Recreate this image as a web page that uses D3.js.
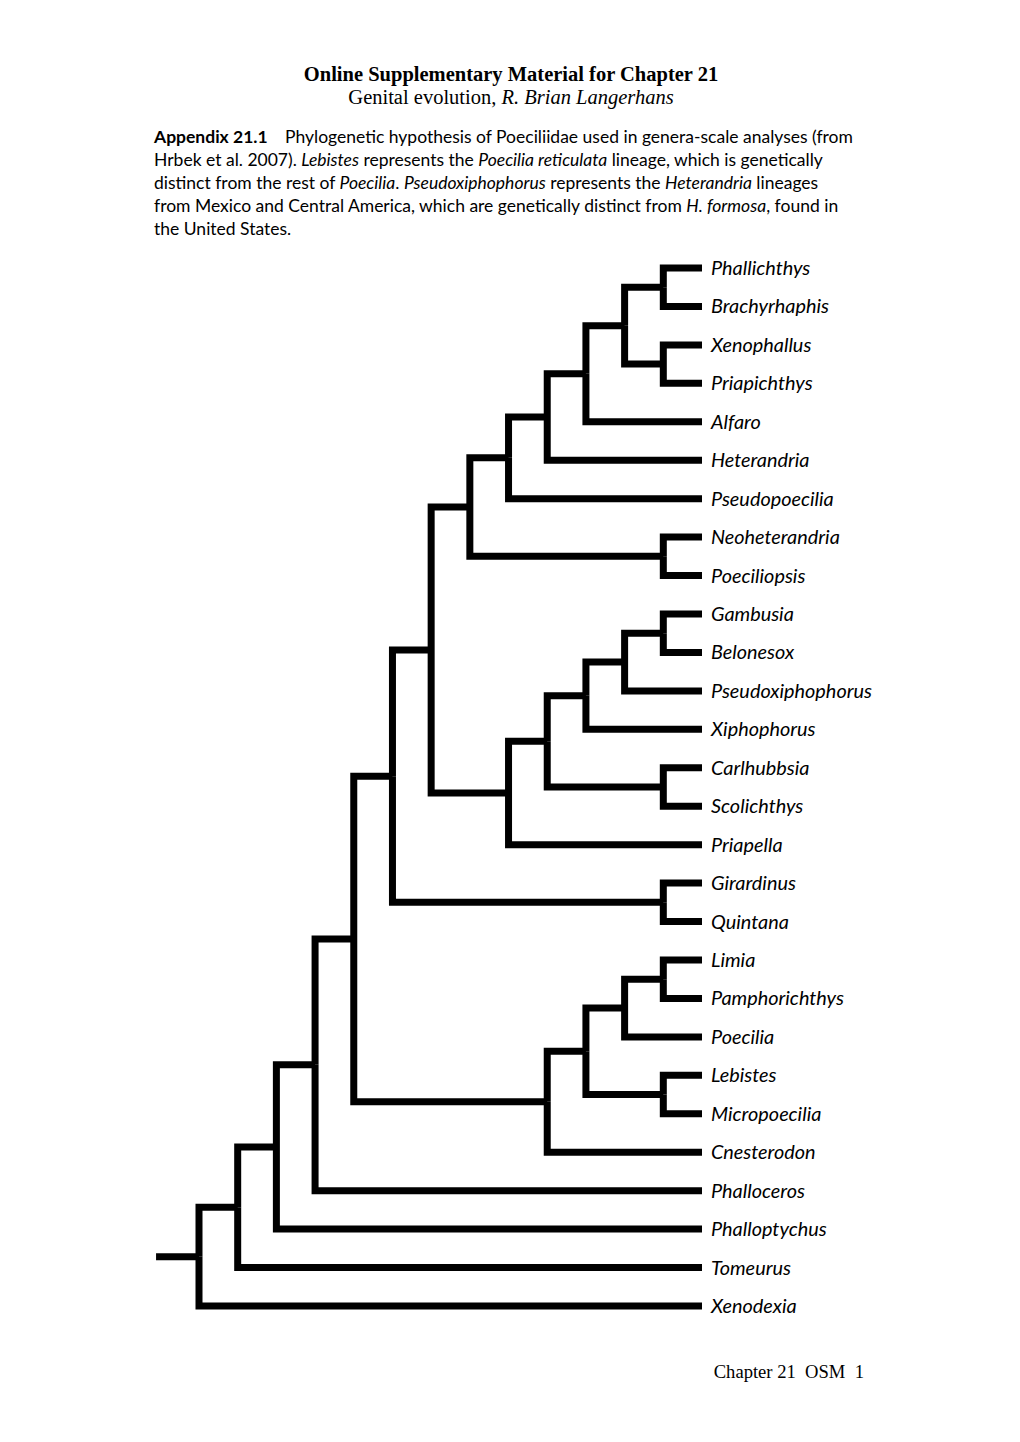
<!DOCTYPE html>
<html><head><meta charset="utf-8">
<script src="https://cdn.jsdelivr.net/npm/d3@7"></script>
<style>
html,body{margin:0;padding:0;background:#fff;}
svg text{white-space:pre;}
</style>
</head><body>
<script>
// ---- Data: tree topology (nested clades) ----
const cladeR  = [["Phallichthys","Brachyrhaphis"],["Xenophallus","Priapichthys"]];
const cladeQ  = [cladeR,"Alfaro"];
const cladeP  = [cladeQ,"Heterandria"];
const cladeN  = [cladeP,"Pseudopoecilia"];
const cladeL  = [cladeN,["Neoheterandria","Poeciliopsis"]];
const cladeV  = [["Gambusia","Belonesox"],"Pseudoxiphophorus"];
const cladeT  = [cladeV,"Xiphophorus"];
const cladeS  = [cladeT,["Carlhubbsia","Scolichthys"]];
const cladeM  = [cladeS,"Priapella"];
const cladeJ  = [cladeL,cladeM];
const cladeE  = [cladeJ,["Girardinus","Quintana"]];
const cladeG  = [["Limia","Pamphorichthys"],"Poecilia"];
const cladeF  = [cladeG,["Lebistes","Micropoecilia"]];
const cladePc = [cladeF,"Cnesterodon"];
const cladeD  = [cladeE,cladePc];
const cladeC  = [cladeD,"Phalloceros"];
const cladeB  = [cladeC,"Phalloptychus"];
const cladeA  = [cladeB,"Tomeurus"];
const rootClade = [cladeA,"Xenodexia"];

const titleText = "Online Supplementary Material for Chapter 21";
const subtitleParts = [{t:"Genital evolution, ",i:false},{t:"R. Brian Langerhans",i:true}];
const captionLines = [
  [{t:"Appendix 21.1",b:true},{t:"Phylogenetic hypothesis of Poeciliidae used in genera-scale analyses (from",gap:true}],
  [{t:"Hrbek et al. 2007). "},{t:"Lebistes",i:true},{t:" represents the "},{t:"Poecilia reticulata",i:true},{t:" lineage, which is genetically"}],
  [{t:"distinct from the rest of "},{t:"Poecilia",i:true},{t:". "},{t:"Pseudoxiphophorus",i:true},{t:" represents the "},{t:"Heterandria",i:true},{t:" lineages"}],
  [{t:"from Mexico and Central America, which are genetically distinct from "},{t:"H. formosa",i:true},{t:", found in"}],
  [{t:"the United States."}]
];
const footerText = "Chapter 21  OSM  1";

// ---- Drawing ----
const W = 1020, H = 1442;
const svg = d3.select("body").append("svg").attr("width",W).attr("height",H);

const root = d3.hierarchy(rootClade, d => Array.isArray(d) ? d : null);
const leafNodes = root.leaves();
const leafNames = leafNodes.map(d => d.data);

const y = d3.scalePoint().domain(leafNames).range([268,1306]);
const x = d3.scaleLinear().domain([0, root.height]).range([702, 199]);

root.eachAfter(n => {
  if (!n.children) n.py = y(n.data);
  else n.py = d3.mean(n.children, c => c.py);
});

const g = svg.append("g");
const sw = 7;
g.selectAll("path.branch")
  .data(root.descendants().filter(d => d.parent))
  .join("path")
  .attr("class","branch")
  .attr("d", d => `M${x(d.parent.height)},${d.parent.py}V${d.py}H${x(d.height)}`)
  .attr("fill","none").attr("stroke","#000").attr("stroke-width",sw)
  .attr("stroke-linejoin","miter").attr("stroke-linecap","butt");

// root stub
g.append("path")
  .attr("d", `M${x(root.height + 1.11)},${root.py}H${x(root.height)}`)
  .attr("fill","none").attr("stroke","#000").attr("stroke-width",sw);

// leaf labels
const labelFont = "Lato, 'Open Sans', sans-serif";
const labels = g.selectAll("text.leaf")
  .data(leafNodes)
  .join("text")
  .attr("class","leaf")
  .attr("x", x(0) + 9)
  .attr("y", d => d.py + 7)
  .attr("font-family", labelFont)
  .attr("font-style","italic")
  .attr("font-size", 18)
  .attr("fill","#000")
  .text(d => d.data);
(function(){
  const n = labels.filter(d => d.data === "Pseudoxiphophorus").node();
  const w = n.getComputedTextLength();
  const fs = 18 * 161 / w;
  labels.attr("font-size", fs);
})();

// title
svg.append("text")
  .attr("x", 511).attr("y", 81)
  .attr("text-anchor","middle")
  .attr("font-family","'Liberation Serif','Times New Roman',serif")
  .attr("font-weight","bold").attr("font-size",20.5)
  .text(titleText);

const sub = svg.append("text")
  .attr("x", 511).attr("y", 104)
  .attr("text-anchor","middle")
  .attr("font-family","'Liberation Serif','Times New Roman',serif")
  .attr("font-size",20.5);
sub.selectAll("tspan").data(subtitleParts).join("tspan")
  .attr("font-style", d => d.i ? "italic" : "normal")
  .text(d => d.t);

// caption
const capFont = "Lato, 'Open Sans', sans-serif";
const capG = svg.append("g");
const capTexts = captionLines.map((line, i) => {
  const t = capG.append("text")
    .attr("x",154).attr("y", 142.5 + i*23.2)
    .attr("font-family",capFont).attr("font-size",16).attr("fill","#000");
  line.forEach(p => {
    const ts = t.append("tspan").text(p.t);
    if (p.b) ts.attr("font-weight","bold");
    if (p.i) ts.attr("font-style","italic");
    if (p.gap) ts.attr("x", 285);
  });
  return t;
});
(function(){
  const t0 = capTexts[0].node();
  const last = t0.lastChild;
  const ext = last.getComputedTextLength();
  const fs = 16 * (853 - 285) / ext;
  capTexts.forEach(t => t.attr("font-size", fs));
})();

// footer
svg.append("text")
  .attr("x", 864).attr("y", 1378)
  .attr("text-anchor","end")
  .attr("font-family","'Liberation Serif','Times New Roman',serif")
  .attr("font-size",18.6)
  .text(footerText);
</script>
</body></html>
